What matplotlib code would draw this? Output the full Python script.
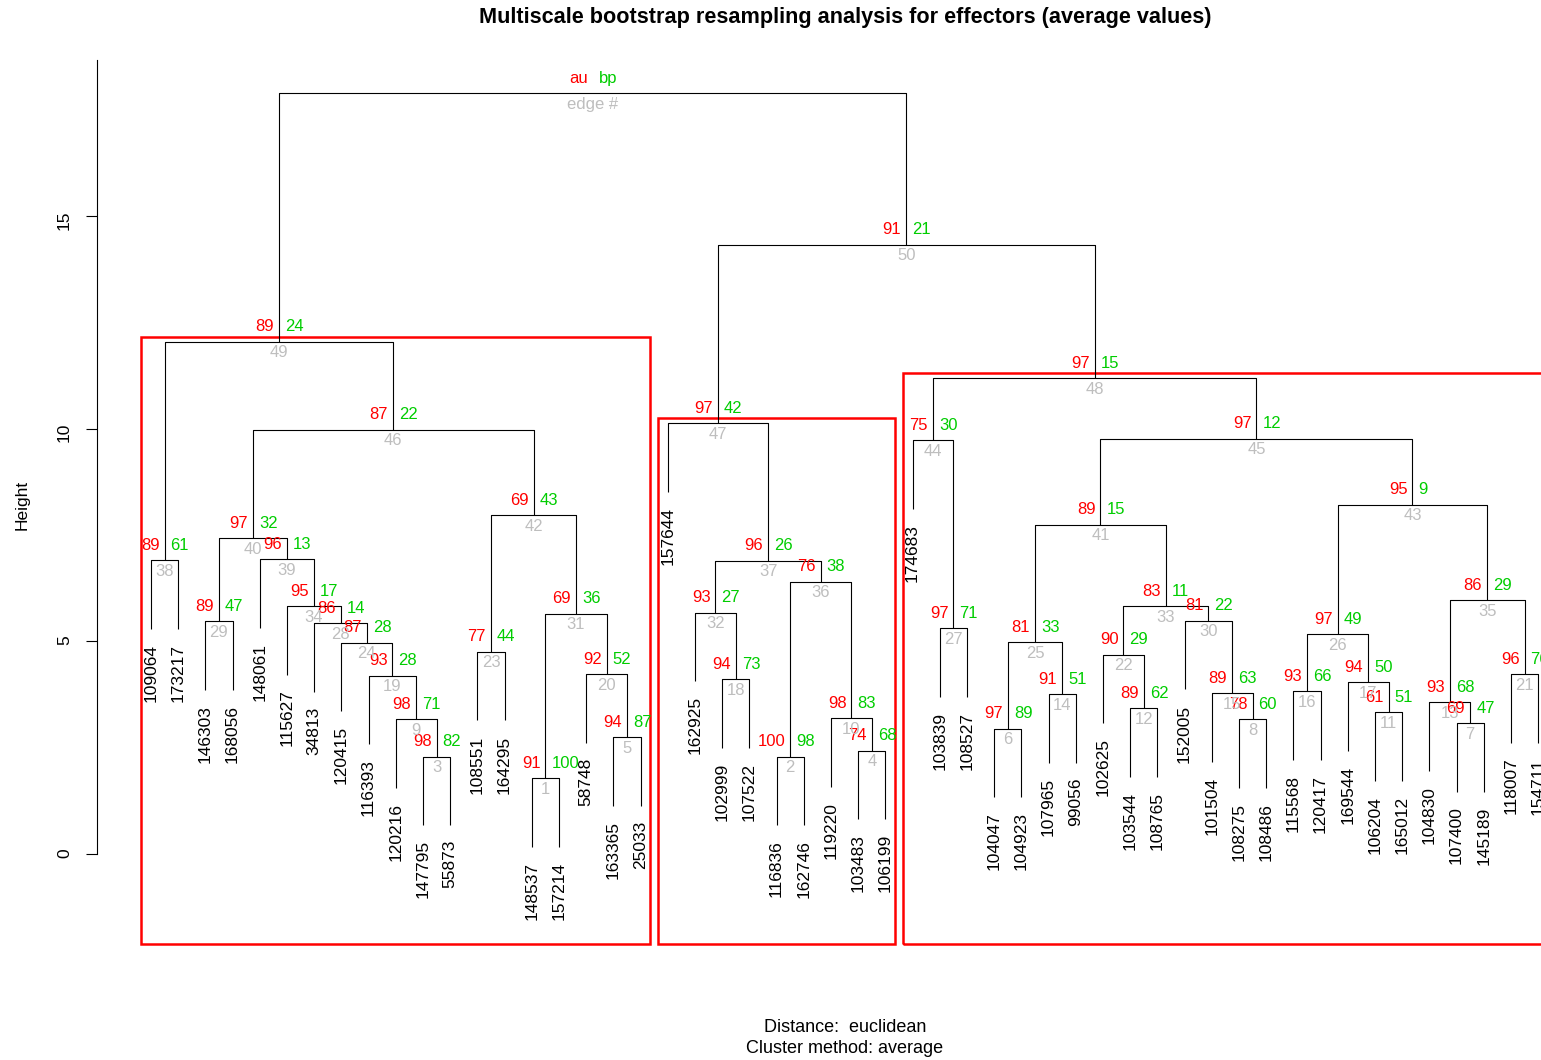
#pvclust dendrogram for the effectors (average values), drawn by hand with matplotlib
import matplotlib
matplotlib.use("Agg")
import matplotlib.pyplot as plt
from matplotlib.patches import Rectangle

plt.rcParams['font.family'] = ['Liberation Sans', 'DejaVu Sans']

#leaf order, left to right
leaves = ["109064", "173217", "146303", "168056", "148061", "115627", "34813",
          "120415", "116393", "120216", "147795", "55873", "108551", "164295",
          "148537", "157214", "58748", "163365", "25033",
          "157644", "162925", "102999", "107522", "116836", "162746", "119220",
          "103483", "106199",
          "174683", "103839", "108527", "104047", "104923", "107965", "99056",
          "102625", "103544", "108765", "152005", "101504", "108275", "108486",
          "115568", "120417", "169544", "106204", "165012", "104830", "107400",
          "145189", "118007", "154711"]

#children of each edge 1..51 (string = leaf, int = edge number), last one is the root
merge_left = ["148537", "116836", "147795", "103483", "163365", "104047", "107400",
              "108275", "120216", "119220", "106204", "103544", "104830", "107965",
              "101504", "115568", "169544", "102999", "116393", "58748", "118007",
              "102625", "108551", "120415", 6, 16, "103839", "34813", "146303",
              "152005", 1, "162925", 22, "115627", 13, 2, 32, "109064", "148061",
              29, 25, 23, 26, "174683", 41, 40, "157644", 44, 38, 47, 49]
merge_right = ["157214", "162746", "55873", "106199", "25033", "104923", "145189",
               "108486", 3, 4, "165012", "108765", 7, "99056", 8, "120417", 11,
               "107522", 9, 5, "154711", 12, "164295", 19, 14, 17, "108527", 24,
               "168056", 15, 20, 18, 30, 28, 21, 10, 36, "173217", 34, 39, 33, 31,
               35, 27, 43, 42, 37, 45, 46, 48, 50]

#merge heights
heights = [1.78, 2.29, 2.29, 2.43, 2.74, 2.94, 3.08, 3.17, 3.17, 3.19,
           3.33, 3.43, 3.57, 3.76, 3.78, 3.83, 4.04, 4.11, 4.19, 4.23,
           4.23, 4.68, 4.75, 4.97, 4.98, 5.17, 5.31, 5.42, 5.47, 5.48,
           5.65, 5.67, 5.82, 5.83, 5.97, 6.40, 6.90, 6.91, 6.93, 7.42,
           7.74, 7.97, 8.21, 9.73, 9.76, 9.97, 10.13, 11.19, 12.04, 14.32,
           17.89]

#approximately unbiased p-values and bootstrap probabilities (%), edges 1..50
au = [91, 100, 98, 74, 94, 97, 69, 78, 98, 98, 61, 89, 93, 91, 89, 93, 94, 94, 93, 92,
      96, 90, 77, 87, 81, 97, 97, 86, 89, 81, 69, 93, 83, 95, 86, 76, 96, 89, 96, 97,
      89, 69, 95, 75, 97, 87, 97, 97, 89, 91]
bp = [100, 98, 82, 68, 87, 89, 47, 60, 71, 83, 51, 62, 68, 51, 63, 66, 50, 73, 28, 52,
      76, 29, 44, 28, 33, 49, 71, 14, 47, 22, 36, 27, 11, 17, 29, 38, 26, 61, 13, 32,
      15, 43, 9, 30, 12, 22, 42, 15, 24, 21]

#clusters outlined in red
boxed_edges = [49, 47, 48]

col_au = "#FF0000"
col_bp = "#00CD00"
col_edge = "#BEBEBE"

W, H = 1541, 1060
fig = plt.figure(figsize=(W / 100, H / 100), dpi=100)
ax = fig.add_axes([0, 0, 1, 1])

#pixel layout: leaf 1 at x=151, 27.2 px per leaf, height 0 at y=854, 42.53 px per unit
x0, dx = 151, 27.2
y0, dy = 854, 42.53
ax.set_xlim(1 - x0 / dx, 1 + (W - x0) / dx)
ax.set_ylim((y0 - H) / dy, y0 / dy)

leaf_x = {name: i + 1 for i, name in enumerate(leaves)}
node_x = {}


def xpos(c):
    if isinstance(c, str):
        return leaf_x[c]
    return node_x[c]


def members(c):
    if isinstance(c, str):
        return [leaf_x[c]]
    return members(merge_left[c - 1]) + members(merge_right[c - 1])


n = len(heights)
hang = 0.1 * (max(heights) - min(heights))

for e in range(1, n + 1):
    l, r = merge_left[e - 1], merge_right[e - 1]
    h = heights[e - 1]
    node_x[e] = (xpos(l) + xpos(r)) / 2
    ends = []
    for c in (l, r):
        if isinstance(c, str):
            yb = h - hang
            ax.annotate(c, xy=(leaf_x[c], yb), xytext=(0, -15), textcoords='offset pixels',
                        rotation=90, ha='center', va='top', fontsize=12.5, color='black')
        else:
            yb = heights[c - 1]
        ends.append(yb)
    ax.plot([xpos(l), xpos(l), xpos(r), xpos(r)], [ends[0], h, h, ends[1]],
            color='black', lw=0.8, solid_capstyle='butt')

#au (red), bp (green) and edge number (grey) at every node; root gets the legend
for e in range(1, n + 1):
    x, h = node_x[e], heights[e - 1]
    if e == n:
        t_au, t_bp, t_ed = "au", "bp", "edge #"
    else:
        t_au, t_bp, t_ed = str(au[e - 1]), str(bp[e - 1]), str(e)
    ax.annotate(t_au, xy=(x, h), xytext=(-5, 15), textcoords='offset pixels',
                ha='right', va='center', fontsize=12, color=col_au)
    ax.annotate(t_bp, xy=(x, h), xytext=(6, 15), textcoords='offset pixels',
                ha='left', va='center', fontsize=12, color=col_bp)
    ax.annotate(t_ed, xy=(x, h), xytext=(0, -11), textcoords='offset pixels',
                ha='center', va='center', fontsize=12, color=col_edge)

#red boxes around the chosen clusters
margin = 0.36
box_bottom = (y0 - 944) / dy
for e in boxed_edges:
    m = members(e)
    top = heights[e - 1] + 0.12
    ax.add_patch(Rectangle((min(m) - margin, box_bottom), max(m) - min(m) + 2 * margin,
                           top - box_bottom, fill=False, edgecolor='#FF0000', lw=1.8))

#y axis only
for s in ['top', 'right', 'bottom']:
    ax.spines[s].set_visible(False)
ax.spines['left'].set_position(('data', 1 + (97 - x0) / dx))
ax.spines['left'].set_bounds(0, (y0 - 60) / dy)
ax.spines['left'].set_linewidth(0.8)
ax.set_xticks([])
ax.set_yticks([0, 5, 10, 15])
ax.tick_params(axis='y', length=8, width=0.8, pad=10, labelsize=12.5, labelrotation=90)
ax.patch.set_visible(False)

fig.text(22 / W, 1 - 505 / H, "Height", rotation=90, ha='center', va='center', fontsize=12.5)
fig.text(845 / W, 1 - 17 / H, "Multiscale bootstrap resampling analysis for effectors (average values)",
         ha='center', va='center', fontsize=15.6, fontweight='bold')
fig.text(845 / W, 1 - 1038 / H, "Distance:  euclidean\nCluster method: average",
         ha='center', va='center', fontsize=13, linespacing=1.3)

fig.savefig("out.png", dpi=100)
